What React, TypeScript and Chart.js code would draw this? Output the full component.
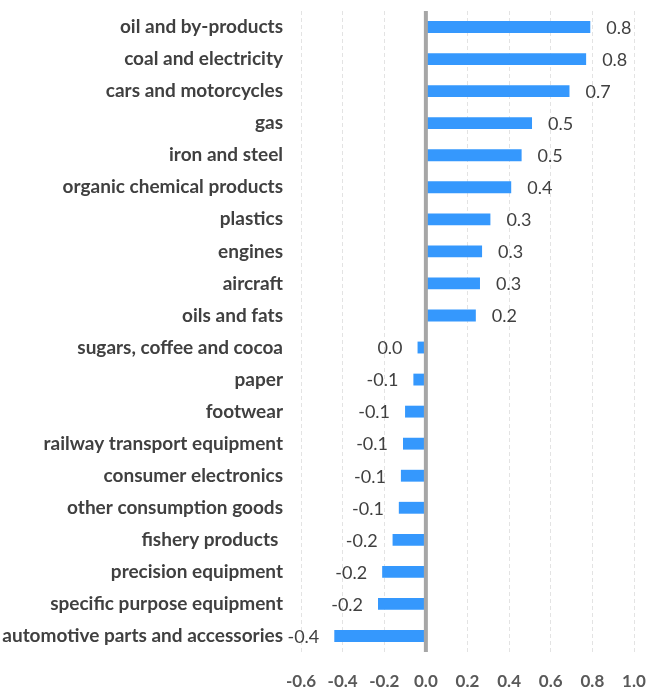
import React, { useEffect, useRef } from "react";
import { Chart, registerables } from "chart.js";

Chart.register(...registerables);

const categories = [
  "oil and by-products",
  "coal and electricity",
  "cars and motorcycles",
  "gas",
  "iron and steel",
  "organic chemical products",
  "plastics",
  "engines",
  "aircraft",
  "oils and fats",
  "sugars, coffee and cocoa",
  "paper",
  "footwear",
  "railway transport equipment",
  "consumer electronics",
  "other consumption goods",
  "fishery products ",
  "precision equipment",
  "specific purpose equipment",
  "automotive parts and accessories",
];

const values = [
  0.79, 0.77, 0.69, 0.51, 0.46, 0.41, 0.31, 0.27, 0.26, 0.24,
  -0.04, -0.06, -0.1, -0.11, -0.12, -0.13, -0.16, -0.21, -0.23, -0.44,
];

const xMin = -0.6;
const xMax = 1.0;
const xStep = 0.2;

const FONT = "Lato, 'Open Sans', sans-serif";

function fmt(v: number): string {
  const r = Math.round(v * 10) / 10;
  if (Math.abs(r) < 0.05) return "0.0";
  return r.toFixed(1);
}

const labelPlugin = {
  id: "valueLabels",
  afterDatasetsDraw(chart: any) {
    const { ctx, chartArea, scales } = chart;
    const x0 = scales.x.getPixelForValue(0);
    ctx.save();
    ctx.strokeStyle = "#a6a6a6";
    ctx.lineWidth = 4;
    ctx.setLineDash([]);
    ctx.beginPath();
    ctx.moveTo(x0, chartArea.top);
    ctx.lineTo(x0, chartArea.bottom);
    ctx.stroke();

    const meta = chart.getDatasetMeta(0);
    ctx.font = `400 18px ${FONT}`;
    ctx.fillStyle = "#404040";
    ctx.textBaseline = "middle";
    meta.data.forEach((bar: any, i: number) => {
      const v = values[i];
      const text = fmt(v);
      const y = bar.y + 1;
      if (v >= 0) {
        ctx.textAlign = "left";
        ctx.fillText(text, bar.x + 16, y);
      } else {
        ctx.textAlign = "right";
        ctx.fillText(text, bar.x - 15, y);
      }
    });
    ctx.restore();
  },
};

export default function App() {
  const ref = useRef<HTMLCanvasElement | null>(null);

  useEffect(() => {
    if (!ref.current) return;
    const chart = new Chart(ref.current, {
      type: "bar",
      data: {
        labels: categories,
        datasets: [
          {
            data: values,
            backgroundColor: "#3598fd",
            borderWidth: 0,
            barPercentage: 0.37,
            categoryPercentage: 1.0,
          },
        ],
      },
      options: {
        indexAxis: "y",
        animation: false,
        responsive: false,
        maintainAspectRatio: false,
        layout: { padding: { top: 11, right: 33, bottom: 0, left: 0 } },
        plugins: {
          legend: { display: false },
          tooltip: { enabled: false },
        },
        scales: {
          x: {
            min: xMin,
            max: xMax,
            afterFit: (scale: any) => {
              scale.height = 39;
              scale.paddingLeft = 0;
              scale.paddingRight = 0;
            },
            ticks: {
              stepSize: xStep,
              padding: 19,
              color: "#595959",
              font: { family: FONT, size: 17, weight: "bold" },
              callback: (v: any) => Number(v).toFixed(1),
            },
            grid: {
              color: "#e3e3e3",
              lineWidth: 1,
              drawTicks: false,
            },
            border: { display: false, dash: [4, 3] },
          },
          y: {
            afterFit: (scale: any) => {
              scale.width = 301;
              scale.paddingTop = 0;
              scale.paddingBottom = 0;
            },
            ticks: {
              padding: 18,
              color: "#404040",
              font: { family: FONT, size: 19, weight: "bold" },
              autoSkip: false,
            },
            grid: { display: false, drawTicks: false },
            border: { display: false },
          },
        },
      },
      plugins: [labelPlugin],
    });
    return () => chart.destroy();
  }, []);

  return (
    <div style={{ position: "fixed", left: 0, top: 0, width: 667, height: 691, background: "#fff" }}>
      <canvas ref={ref} width={667} height={691} style={{ width: 667, height: 691 }} />
    </div>
  );
}
